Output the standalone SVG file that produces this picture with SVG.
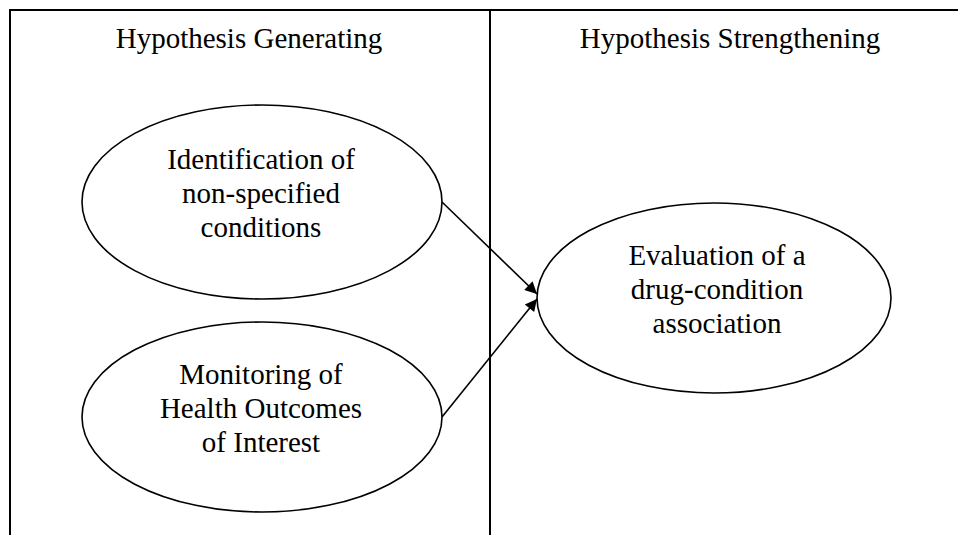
<svg xmlns="http://www.w3.org/2000/svg" width="958" height="535" viewBox="0 0 958 535">
<style>
text{font-family:"Liberation Serif","Times New Roman",serif;font-size:29px;fill:#000;text-anchor:middle}
.frame{stroke:#000;stroke-width:2;fill:none}
.node ellipse{fill:#fff;stroke:#000;stroke-width:1.6}
.conn line{stroke:#000;stroke-width:1.6;marker-end:url(#ah)}
</style>
<defs>
<marker id="ah" viewBox="0 0 10 10" refX="10" refY="5" markerWidth="16" markerHeight="12" markerUnits="userSpaceOnUse" orient="auto">
<path d="M0,0 L10,5 L0,10 z" fill="#000"/>
</marker>
</defs>
<rect width="958" height="535" fill="#fff"/>
<g id="frame">
<line class="frame" x1="10" y1="10" x2="958" y2="10"/>
<line class="frame" x1="10" y1="9" x2="10" y2="535"/>
<line class="frame" x1="490" y1="10" x2="490" y2="535"/>
<text x="249" y="48">Hypothesis Generating</text>
<text x="730" y="48">Hypothesis Strengthening</text>
</g>
<g id="n1" class="node">
<ellipse cx="262" cy="202" rx="180" ry="97"/>
<text x="261" y="169">Identification of</text>
<text x="261" y="203">non-specified</text>
<text x="261" y="237">conditions</text>
</g>
<g id="n2" class="node">
<ellipse cx="262" cy="417" rx="180" ry="95"/>
<text x="261" y="384">Monitoring of</text>
<text x="261" y="418">Health Outcomes</text>
<text x="261" y="452">of Interest</text>
</g>
<g id="n3" class="node">
<ellipse cx="714" cy="298" rx="177" ry="95"/>
<text x="717" y="265">Evaluation of a</text>
<text x="717" y="299">drug-condition</text>
<text x="717" y="333">association</text>
</g>
<g id="connectors" class="conn">
<line x1="442" y1="202" x2="537" y2="294"/>
<line x1="442" y1="417" x2="537" y2="299"/>
</g>
</svg>
